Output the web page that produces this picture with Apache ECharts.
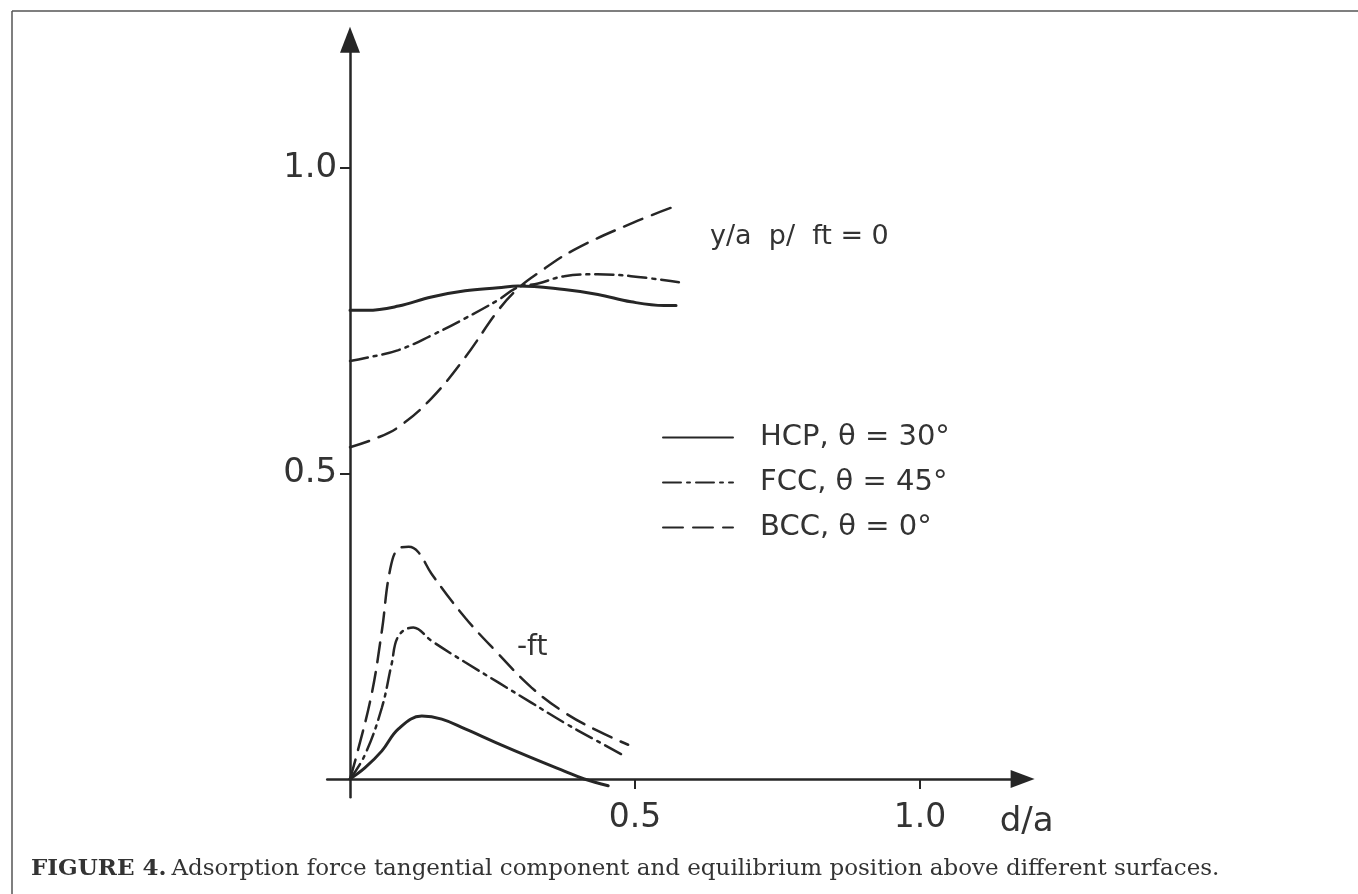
<!DOCTYPE html>
<html>
<head>
<meta charset="utf-8">
<script src="https://cdn.jsdelivr.net/npm/echarts@6/dist/echarts.min.js"></script>
<style>html,body{margin:0;padding:0;background:#fff}#c{width:1358px;height:894px}</style>
</head>
<body>
<div id="c"></div>
<script>
// ---- data ----
const legendNames = ['HCP, θ = 30°', 'FCC, θ = 45°', 'BCC, θ = 0°'];
const tickValues = [0.5, 1.0];

// equilibrium position y/a for ft = 0 (upper curves)
const hcpUpperX = [0, 0.03, 0.085, 0.143, 0.202, 0.26, 0.295, 0.376, 0.435, 0.493, 0.551, 0.572];
const hcpUpperY = [0.767, 0.767, 0.774, 0.789, 0.799, 0.804, 0.807, 0.801, 0.793, 0.781, 0.775, 0.775];
const fccUpperX = [0, 0.027, 0.085, 0.143, 0.202, 0.26, 0.295, 0.33, 0.376, 0.434, 0.493, 0.577];
const fccUpperY = [0.684, 0.689, 0.702, 0.726, 0.754, 0.784, 0.805, 0.811, 0.823, 0.826, 0.823, 0.813];
const bccUpperX = [0, 0.044, 0.085, 0.143, 0.202, 0.26, 0.295, 0.33, 0.393, 0.498, 0.578];
const bccUpperY = [0.543, 0.557, 0.576, 0.623, 0.690, 0.767, 0.803, 0.828, 0.866, 0.911, 0.940];

// tangential force -ft (lower curves)
const hcpLowerX = [0, 0.026, 0.056, 0.085, 0.126, 0.161, 0.202, 0.26, 0.318, 0.376, 0.411, 0.453];
const hcpLowerY = [0, 0.018, 0.046, 0.082, 0.103, 0.098, 0.082, 0.058, 0.035, 0.013, 0.0, -0.011];
const fccLowerX = [0, 0.026, 0.056, 0.073, 0.085, 0.111, 0.143, 0.202, 0.26, 0.318, 0.376, 0.434, 0.481];
const fccLowerY = [0, 0.039, 0.117, 0.188, 0.234, 0.248, 0.226, 0.191, 0.158, 0.125, 0.092, 0.062, 0.038];
const bccLowerX = [0, 0.012, 0.038, 0.056, 0.07, 0.085, 0.103, 0.12, 0.143, 0.202, 0.26, 0.318, 0.376, 0.434, 0.488];
const bccLowerY = [0, 0.04, 0.139, 0.243, 0.341, 0.377, 0.380, 0.371, 0.336, 0.264, 0.205, 0.150, 0.109, 0.079, 0.056];

const zip = (xs, ys) => xs.map((x, i) => [x, ys[i]]);

const ink = '#262626';
const styles = [
  { type: 'solid', width: 3 },
  { type: [18, 6, 3, 6], width: 2.5 },
  { type: [20, 10], width: 2.5 }
];
const sets = [
  [hcpUpperX, hcpUpperY, hcpLowerX, hcpLowerY],
  [fccUpperX, fccUpperY, fccLowerX, fccLowerY],
  [bccUpperX, bccUpperY, bccLowerX, bccLowerY]
];

const series = [];
sets.forEach((s, i) => {
  [[s[0], s[1]], [s[2], s[3]]].forEach(([xs, ys]) => {
    series.push({
      type: 'line',
      name: legendNames[i],
      data: zip(xs, ys),
      symbol: 'none',
      smooth: 0.4,
      silent: true,
      color: ink,
      itemStyle: { opacity: 0 },
      lineStyle: { color: ink, type: styles[i].type, width: styles[i].width, cap: 'round' }
    });
  });
});

const sansFont = 'DejaVu Sans';
const chart = echarts.init(document.getElementById('c'), null, { renderer: 'canvas' });
chart.setOption({
  backgroundColor: '#fff',
  animation: false,
  grid: { left: 327.2, right: 335.4, top: 39.7, bottom: 96.7, containLabel: false },
  xAxis: {
    type: 'value', min: -0.04, max: 1.18,
    name: 'd/a', nameLocation: 'end', nameGap: 4,
    nameTextStyle: { fontFamily: sansFont, fontSize: 34, color: '#333', align: 'center', verticalAlign: 'top', padding: [26, 0, 0, 0] },
    axisLine: { onZero: true, symbol: ['none', 'triangle'], symbolSize: [18, 24], lineStyle: { color: ink, width: 2.5 } },
    axisTick: { show: true, customValues: tickValues, length: 10, inside: false, lineStyle: { color: ink, width: 2 } },
    axisLabel: { customValues: tickValues, margin: 5, fontFamily: sansFont, fontSize: 33, color: '#333', formatter: v => v.toFixed(1) },
    splitLine: { show: false }
  },
  yAxis: {
    type: 'value', min: -0.03, max: 1.21,
    axisLine: { onZero: true, symbol: ['none', 'triangle'], symbolSize: [20, 26], lineStyle: { color: ink, width: 2.5 } },
    axisTick: { show: true, customValues: tickValues, length: 10, inside: false, lineStyle: { color: ink, width: 2 } },
    axisLabel: { customValues: tickValues, margin: -10, fontFamily: sansFont, fontSize: 34, color: '#333', formatter: v => v.toFixed(1) },
    splitLine: { show: false }
  },
  legend: {
    data: legendNames,
    orient: 'vertical', left: 657, top: 418,
    itemWidth: 70, itemHeight: 14, itemGap: 16,
    selectedMode: false,
    itemStyle: { opacity: 0 },
    textStyle: { fontFamily: sansFont, fontSize: 29, color: '#333', padding: [0, 0, 0, 22] }
  },
  title: {
    left: 26, top: 853,
    text: '{b|FIGURE 4.} {n|Adsorption force tangential component and equilibrium position above different surfaces.}',
    textStyle: {
      rich: {
        b: { fontFamily: 'DejaVu Serif', fontWeight: 'bold', fontSize: 23, color: '#333' },
        n: { fontFamily: 'DejaVu Serif', fontWeight: 'normal', fontSize: 23, color: '#333' }
      }
    }
  },
  graphic: [
    { type: 'line', shape: { x1: 12, y1: 11, x2: 1358, y2: 11 }, style: { stroke: '#555', lineWidth: 1.5 } },
    { type: 'line', shape: { x1: 12, y1: 11, x2: 12, y2: 894 }, style: { stroke: '#555', lineWidth: 1.5 } },
    { type: 'text', left: 710, top: 223, style: { text: 'y/a  p/  ft = 0', font: '27px "DejaVu Sans"', fill: '#333' } },
    { type: 'text', left: 517, top: 634, style: { text: '-ft', font: '28px "DejaVu Sans"', fill: '#333' } }
  ],
  series: series
});
</script>
</body>
</html>
